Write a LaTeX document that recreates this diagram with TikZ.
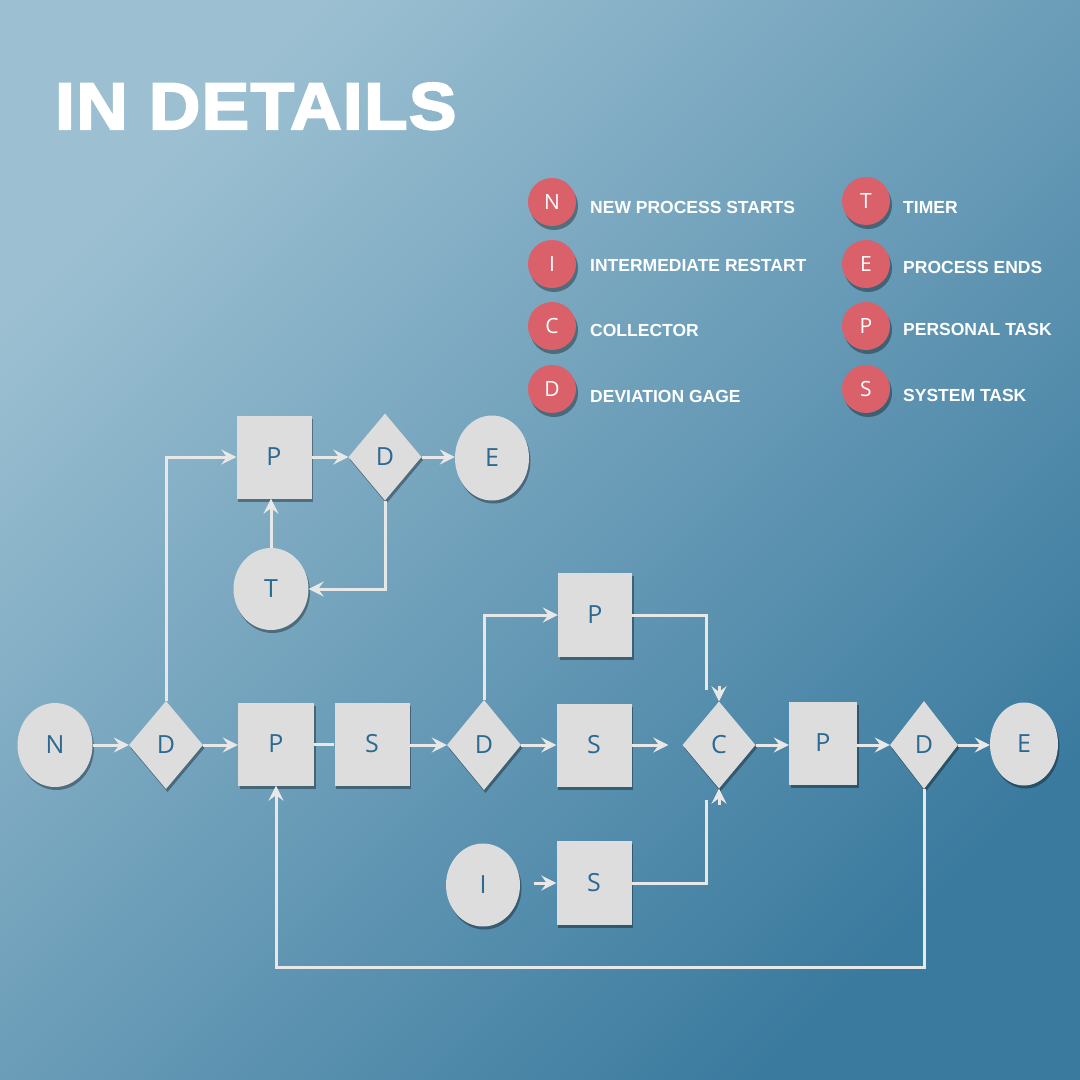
\documentclass[tikz,border=0pt]{standalone}
\usepackage{fontspec}
\setmainfont{Liberation Sans}
\newfontfamily\titlefont[FakeBold=3,FakeStretch=1.08,LetterSpace=2]{Liberation Sans}
\newfontfamily\letterfont{Open Sans}
\usetikzlibrary{shapes.geometric,arrows.meta,shadows}
\definecolor{bgA}{RGB}{156,192,210}
\definecolor{bgB}{RGB}{58,122,158}
\definecolor{nodefill}{RGB}{221,221,221}
\definecolor{nodetext}{RGB}{44,105,145}
\definecolor{linec}{RGB}{232,232,232}
\definecolor{legred}{RGB}{218,96,106}
\begin{document}
\begin{tikzpicture}[x=1pt,y=-1pt,
  shape base/.style={fill=nodefill, draw=none, inner sep=0pt, text=nodetext,
    font=\letterfont\fontsize{25}{25}\selectfont,
    drop shadow={shadow xshift=1.5pt, shadow yshift=-3pt, opacity=0.35, fill=black}},
  boxnode/.style={shape base, rectangle, minimum width=75pt, minimum height=83pt},
  ellnode/.style={shape base, ellipse, minimum width=75pt, minimum height=84pt},
  dianode/.style={shape base, diamond, minimum width=74pt, minimum height=88pt},
  ln/.style={draw=linec, line width=3pt},
  arr/.style={ln, -{Stealth[length=15pt, width=15pt, inset=5.5pt]}},
  legc/.style={circle, fill=legred, minimum size=48pt, inner sep=0pt, text=white,
    font=\letterfont\fontsize{21}{21}\selectfont,
    drop shadow={shadow xshift=2pt, shadow yshift=-4pt, opacity=0.35, fill=black}},
  legt/.style={anchor=base west, inner sep=0pt, text=white,
    font=\bfseries\fontsize{17.5}{17.5}\selectfont}
]
\useasboundingbox (0,0) rectangle (1080,1080);
\shade[top color=bgA, bottom color=bgB, shading angle=45] (0,0) rectangle (1080,1080);

% title
\node[anchor=base west, inner sep=0pt, text=white,
  font=\titlefont\bfseries\fontsize{66}{66}\selectfont] (title) at (55,129) {IN DETAILS};

% legend
\node[legc] (lN) at (552,202) {N};
\node[legc] (lI) at (552,264) {I};
\node[legc] (lC) at (552,326) {C};
\node[legc] (lD) at (552,389) {D};
\node[legc] (lT) at (866,201) {T};
\node[legc] (lE) at (866,264) {E};
\node[legc] (lP) at (866,326) {P};
\node[legc] (lS) at (866,389) {S};
\node[legt] (tN) at (590,213) {NEW PROCESS STARTS};
\node[legt] (tI) at (590,271) {INTERMEDIATE RESTART};
\node[legt] (tC) at (590,336) {COLLECTOR};
\node[legt] (tD) at (590,402) {DEVIATION GAGE};
\node[legt] (tT) at (903,213) {TIMER};
\node[legt] (tE) at (903,273) {PROCESS ENDS};
\node[legt] (tP) at (903,335) {PERSONAL TASK};
\node[legt] (tS) at (903,401) {SYSTEM TASK};

% main row
\node[ellnode] (N) at (55,745) {N};
\node[dianode] (D1) at (166,745) {D};
\node[boxnode, minimum width=76pt] (P1) at (276,744) {P};
\node[boxnode] (S1) at (372,744) {S};
\node[dianode, minimum height=90pt] (D2) at (484,745) {D};
\node[boxnode] (S2) at (594,745) {S};
\node[dianode, minimum width=73pt, minimum height=87pt] (C) at (719,745) {C};
\node[boxnode, minimum width=68pt] (P3) at (823,743) {P};
\node[dianode, minimum width=68pt] (D3) at (924,745) {D};
\node[ellnode, minimum width=68pt, minimum height=83pt] (E2) at (1024,744) {E};

% top branch
\node[boxnode] (Pt) at (274,457) {P};
\node[dianode, minimum width=73pt, minimum height=87pt] (Dt) at (385,457) {D};
\node[ellnode, minimum width=74pt, minimum height=85pt] (Et) at (492,458) {E};
\node[ellnode, minimum height=82pt] (T) at (271,589) {T};

% middle branches
\node[boxnode, minimum width=74pt, minimum height=84pt] (P2) at (595,615) {P};
\node[ellnode, minimum width=74pt, minimum height=83pt] (I) at (483,885) {I};
\node[boxnode, minimum height=84pt] (S3) at (594,883) {S};

% coordinates for free ends
\coordinate (cTop) at (706,690);
\coordinate (cTopTip) at (719,686);
\coordinate (cBot) at (706,800);
\coordinate (cBotTip) at (719,805);
\coordinate (iStart) at (534,883);
\coordinate (loopR) at (924,967);

% connectors main row
\draw[arr] (N.east) -- (N.east -| D1.west);
\draw[arr] (D1.east) -- (D1.east -| P1.west);
\draw[ln] (P1.east) -- (P1.east -| S1.west);
\draw[arr] (S1.east |- D2.west) -- (D2.west);
\draw[arr] (D2.east) -- (D2.east -| S2.west);
\draw[arr, shorten >=14pt] (S2.east) -- (S2.east -| C.west);
\draw[arr] (C.east) -- (C.east -| P3.west);
\draw[arr] (P3.east |- D3.west) -- (D3.west);
\draw[arr] (D3.east) -- (D3.east -| E2.west);

% top branch connectors
\draw[arr] (D1.north) |- (Pt.west);
\draw[arr] (Pt.east) -- (Pt.east -| Dt.west);
\draw[arr] (Dt.east) -- (Dt.east -| Et.west);
\draw[arr] (Dt.south) |- (T.east);
\draw[arr] (T.north) -- (T.north |- Pt.south);

% collector branches
\draw[arr] (D2.north) |- (P2.west);
\draw[ln] (P2.east) -| (cTop);
\draw[arr] (cTopTip) -- (C.north);
\draw[ln] (S3.east) -| (cBot);
\draw[arr] (cBotTip) -- (C.south);
\draw[arr] (iStart) -- (S3.west |- iStart);

% loop back
\draw[arr] (D3.south) -- (loopR) -| (P1.south);
\end{tikzpicture}
\end{document}
